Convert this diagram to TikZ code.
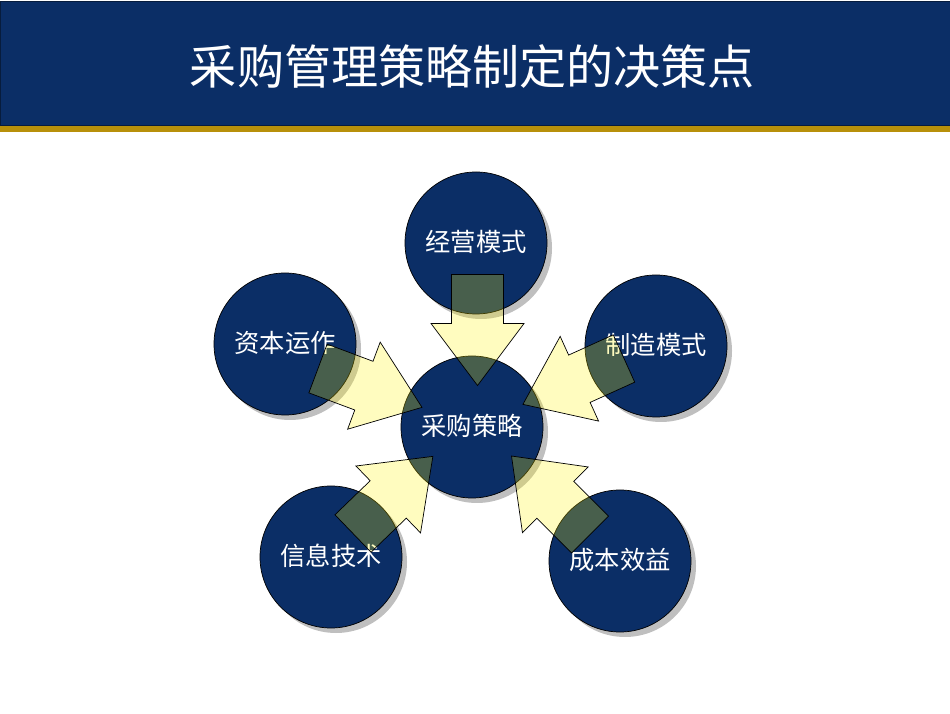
\documentclass[tikz,border=0pt]{standalone}
\usepackage{fontspec}
\newfontfamily\cjk{Noto Sans CJK SC}
\usetikzlibrary{shadows}
\definecolor{navyblue}{RGB}{11,46,102}
\definecolor{goldbar}{RGB}{184,144,10}

\begin{document}
\begin{tikzpicture}[
	decision/.style={circle, draw=black, thin, fill=navyblue, minimum size=2.84cm, inner sep=0pt,
		text=white, font=\cjk\fontsize{14.4}{17}\selectfont, text height=1.1em, text depth=0.12em,
		drop shadow={shadow xshift=0.1cm, shadow yshift=-0.1cm, fill=black!25, opacity=1}},
	bigarrow/.pic={
		\draw[black, thin, fill=yellow, fill opacity=0.25]
			(0,-0.52) -- (0.98,-0.52) -- (0.98,-0.93) -- (2.22,0) -- (0.98,0.93)
			-- (0.98,0.52) -- (0,0.52) -- cycle;
	}
]
	\useasboundingbox (0,0) rectangle (19,14.26);

	% header
	\fill[goldbar] (0,11.62) rectangle (19,11.78);
	\draw[navyblue!60!black, fill=navyblue] (0,11.76) rectangle (19,14.24);
	\node[text=white, font=\cjk\fontsize{26.8}{32}\selectfont] (title) at (9.45,12.92) {采购管理策略制定的决策点};

	% circles
	\node[decision] (top) at (9.52,9.40) {经营模式};
	\node[decision] (capital) at (5.70,7.38) {资本运作};
	\node[decision] (making) at (13.12,7.34) {制造模式};
	\node[decision] (center) at (9.44,5.72) {采购策略};
	\node[decision] (info) at (6.62,3.12) {信息技术};
	\node[decision] (cost) at (12.40,3.04) {成本效益};

	% arrows
	\pic[rotate=-90] at (9.55,8.77) {bigarrow};
	\pic[rotate=-20.5] at (6.36,6.89) {bigarrow};
	\pic[rotate=204.4] at (12.48,7.09) {bigarrow};
	\pic[rotate=44] at (7.06,3.59) {bigarrow};
	\pic[rotate=135] at (11.80,3.57) {bigarrow};

\end{tikzpicture}
\end{document}
